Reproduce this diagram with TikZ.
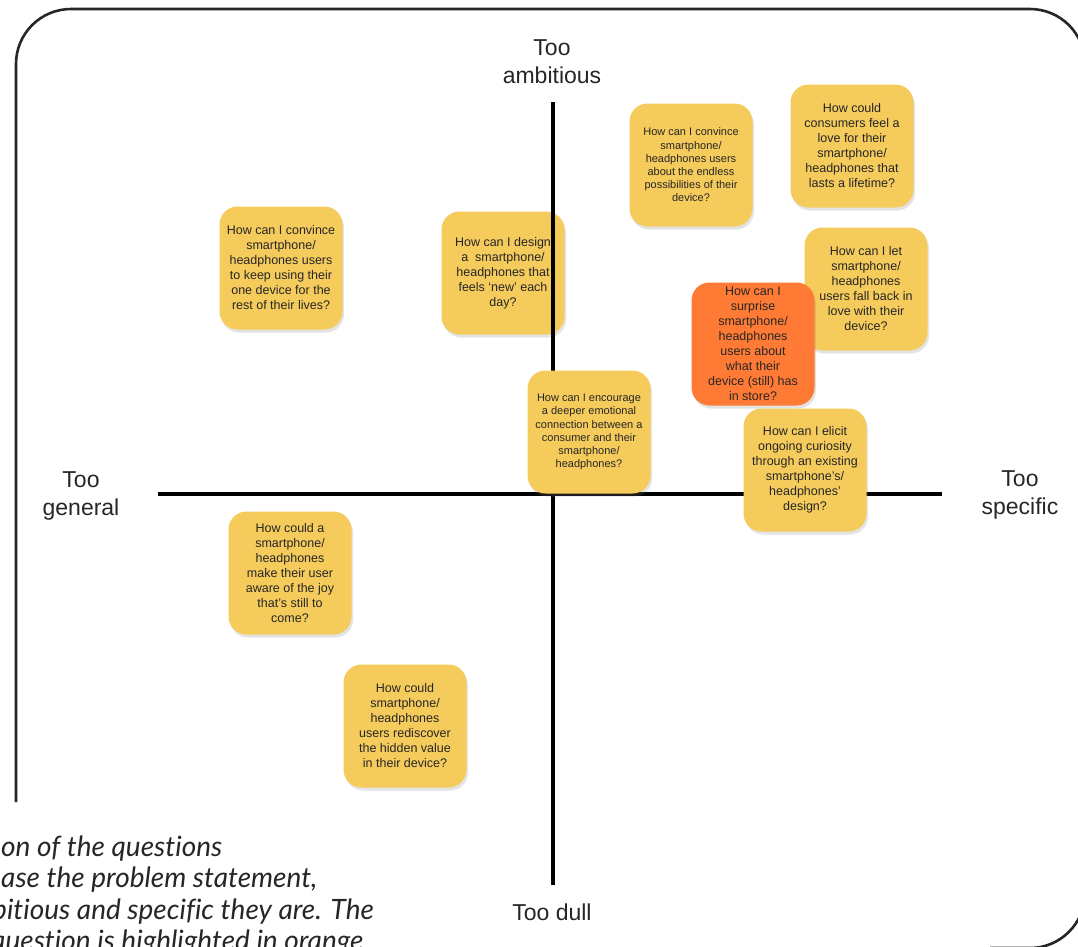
\documentclass[tikz,border=0pt]{standalone}
\usepackage{fontspec}
\setmainfont{Liberation Sans}
\newfontfamily\capfont[Ligatures=NoCommon]{Lato}
\usetikzlibrary{shadows}
\definecolor{noteyellow}{HTML}{F5CB5C}
\definecolor{noteorange}{HTML}{FF7B35}
\definecolor{inkgray}{HTML}{262626}
\tikzset{
  sticky note/.style={
    rectangle, rounded corners=18pt, fill=noteyellow, draw=none,
    minimum width=123pt, minimum height=123pt, inner sep=2pt,
    align=center, text=inkgray, font=\fontsize{12.5}{15}\selectfont,
    drop shadow={shadow xshift=1.5pt, shadow yshift=-3pt, opacity=0.22}
  },
  sticky small/.style={font=\fontsize{11}{13.2}\selectfont},
  sticky hot/.style={fill=noteorange},
  axis label/.style={align=center, text=inkgray, font=\fontsize{23}{28}\selectfont},
  caption line/.style={anchor=base west, inner sep=0pt, text=inkgray,
    font=\capfont\itshape\fontsize{28}{31}\selectfont},
  axis line/.style={line width=4pt, black}
}

\begin{document}
\begin{tikzpicture}[x=1pt, y=-1pt]
\useasboundingbox (0,0) rectangle (1078,946);
\clip (0,0) rectangle (1078,946);

% ---------------------------
% frame
% ---------------------------
\draw[line width=2.6pt, inkgray, rounded corners=55pt]
  (16,802) -- (16,9) -- (1085,9) -- (1085,948) -- (990,948);

% ---------------------------
% note behind the axis
% ---------------------------
\node[sticky note] (design) at (503,273)
  {How can I design\\a\ \ smartphone/\\headphones that\\feels ‘new’ each\\day?};

% ---------------------------
% axes
% ---------------------------
\coordinate (top)    at (553,102);
\coordinate (bottom) at (553,885);
\coordinate (left)   at (158,494);
\coordinate (right)  at (942,494);
\draw[axis line] (top) -- (bottom);
\draw[axis line] (left) -- (right);

\node[axis label] (ambitious) at (552,62) {Too\\ambitious};
\node[axis label] (general)   at (81,496) {Too\\general};
\node[axis label] (specific)  at (1020,495) {Too\\specific};
\node[axis label] (dull)      at (552,912) {Too dull};

% ---------------------------
% notes
% ---------------------------
\node[sticky note, sticky small] (endless) at (691,165)
  {How can I convince\\smartphone/\\headphones users\\about the endless\\possibilities of their\\device?};
\node[sticky note] (lifetime) at (852,146)
  {How could\\consumers feel a\\love for their\\smartphone/\\headphones that\\lasts a lifetime?};
\node[sticky note] (keep) at (281,268)
  {How can I convince\\smartphone/\\headphones users\\to keep using their\\one device for the\\rest of their lives?};
\node[sticky note] (fallback) at (866,289)
  {How can I let\\smartphone/\\headphones\\users fall back in\\love with their\\device?};
\node[sticky note, sticky hot] (surprise) at (753,344)
  {How can I\\surprise\\smartphone/\\headphones\\users about\\what their\\device (still) has\\in store?};
\node[sticky note, sticky small] (deeper) at (589,432)
  {How can I encourage\\a deeper emotional\\connection between a\\consumer and their\\smartphone/\\headphones?};
\node[sticky note] (curiosity) at (805,470)
  {How can I elicit\\ongoing curiosity\\through an existing\\smartphone’s/\\headphones’\\design?};
\node[sticky note] (joy) at (290,573)
  {How could a\\smartphone/\\headphones\\make their user\\aware of the joy\\that’s still to\\come?};
\node[sticky note] (hidden) at (405,726)
  {How could\\smartphone/\\headphones\\users rediscover\\the hidden value\\in their device?};

% ---------------------------
% caption (cut off at the left)
% ---------------------------
\node[caption line] (cap1) at (1,856) {on of the questions};
\node[caption line] (cap2) at (1,887) {ase the problem statement,};
\node[caption line] (cap3) at (-8,919) {bitious and specific they are. The};
\node[caption line] (cap4) at (-9,950) {question is highlighted in orange};

\end{tikzpicture}
\end{document}
